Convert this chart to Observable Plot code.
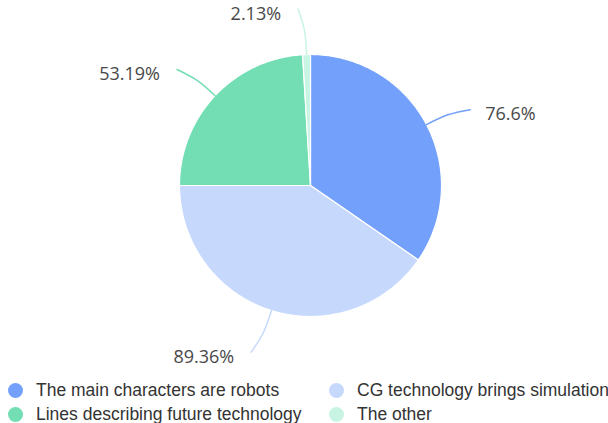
<!DOCTYPE html>
<html>
<head>
<meta charset="utf-8">
<script src="https://cdn.jsdelivr.net/npm/d3@7"></script>
<script src="https://cdn.jsdelivr.net/npm/@observablehq/plot@0.6"></script>
<style>
  body { margin: 0; background: #fff; font-family: "Liberation Sans", Arial, sans-serif; overflow: hidden; }
  #legend { display: grid; grid-template-columns: 321px 287px; row-gap: 4px; margin-top: 8px; }
  .item { display: flex; align-items: center; font-size: 17.5px; color: #333; white-space: nowrap; height: 20px; }
  .dot { width: 15px; height: 15px; border-radius: 50%; margin-left: 8px; margin-right: 13px; flex: none; }
</style>
</head>
<body>
<div id="chart"></div>
<div id="legend"></div>
<script>
const categories = ["The main characters are robots", "CG technology brings simulation", "Lines describing future technology", "The other"];
const values = [76.6, 89.36, 53.19, 2.13];
const labels = ["76.6%", "89.36%", "53.19%", "2.13%"];
const colors = ["#73a0fa", "#c6d9fd", "#73deb3", "#c8f4e3"];

const W = 608, H = 372, R = 131, CX = 310, CY = 185;

const pie = d3.pie().sort(null).value(d => d.value)(categories.map((c, i) => ({category: c, value: values[i], label: labels[i]})));

// arc polygons in radius units (y up), angle clockwise from 12 o'clock
const slicePts = [];
pie.forEach(p => {
  const n = Math.max(4, Math.ceil((p.endAngle - p.startAngle) / 0.01));
  slicePts.push({category: p.data.category, x: 0, y: 0});
  for (let k = 0; k <= n; k++) {
    const a = p.startAngle + (p.endAngle - p.startAngle) * k / n;
    slicePts.push({category: p.data.category, x: Math.sin(a), y: Math.cos(a)});
  }
  slicePts.push({category: p.data.category, x: 0, y: 0});
});

// leader lines bend gently toward the horizontal
const leaderPts = [];
const labelPts = [];
pie.forEach(p => {
  const m = (p.startAngle + p.endAngle) / 2;
  const side = Math.sin(m) >= 0 ? 1 : -1;
  const target = side > 0 ? Math.PI / 2 : 3 * Math.PI / 2;
  const dir = Math.sign(target - m);
  const r0 = 1.0, r1 = 1.18, r2 = 1.35;
  const m1 = m + dir * 0.008, m2 = m + dir * 0.04;
  leaderPts.push({category: p.data.category, x: r0 * Math.sin(m), y: r0 * Math.cos(m)});
  leaderPts.push({category: p.data.category, x: r1 * Math.sin(m1), y: r1 * Math.cos(m1)});
  leaderPts.push({category: p.data.category, x: r2 * Math.sin(m2), y: r2 * Math.cos(m2)});
  labelPts.push({label: p.data.label, side, x: r2 * Math.sin(m2), y: r2 * Math.cos(m2)});
});

const color = {domain: categories, range: colors};

const plot = Plot.plot({
  width: W, height: H,
  margin: 0,
  x: {domain: [-CX / R, (W - CX) / R], range: [0, W], axis: null},
  y: {domain: [-(H - CY) / R, CY / R], range: [H, 0], axis: null},
  color,
  style: {overflow: "visible", background: "#fff"},
  marks: [
    Plot.line(slicePts, {x: "x", y: "y", z: "category", fill: "category", stroke: "#fff", strokeWidth: 1.2, strokeLinejoin: "round"}),
    Plot.line(leaderPts, {x: "x", y: "y", z: "category", stroke: "category", strokeWidth: 1.5, curve: "natural"}),
    Plot.text(labelPts.filter(d => d.side > 0), {x: "x", y: "y", text: "label", textAnchor: "start", dx: 15, dy: 5, fontSize: 18, fill: "#484848", fontFamily: "Open Sans, sans-serif"}),
    Plot.text(labelPts.filter(d => d.side < 0), {x: "x", y: "y", text: "label", textAnchor: "end", dx: -17, dy: 5, fontSize: 18, fill: "#484848", fontFamily: "Open Sans, sans-serif"})
  ]
});
document.getElementById("chart").appendChild(plot);

const legend = document.getElementById("legend");
[0, 1, 2, 3].forEach(i => {
  const it = document.createElement("div");
  it.className = "item";
  const dot = document.createElement("span");
  dot.className = "dot";
  dot.style.background = colors[i];
  const t = document.createElement("span");
  t.textContent = categories[i];
  it.appendChild(dot); it.appendChild(t);
  legend.appendChild(it);
});
</script>
</body>
</html>
